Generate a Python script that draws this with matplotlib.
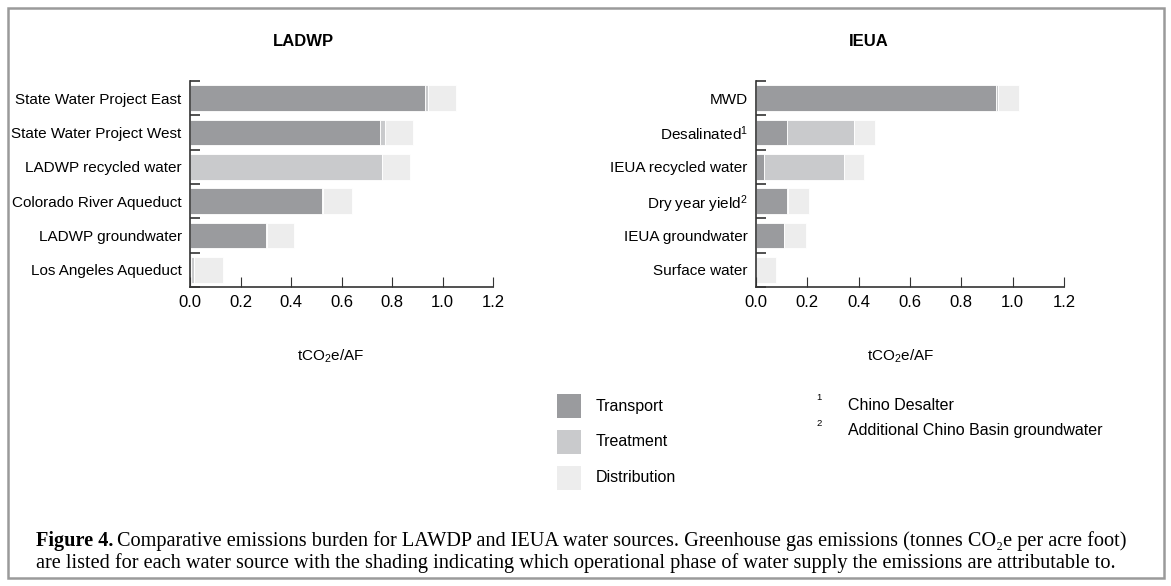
import matplotlib.pyplot as plt
from matplotlib import font_manager
from matplotlib.patches import Rectangle

# narrow sans isn't always there; fall back to the regular one
names = set(f.name for f in font_manager.fontManager.ttflist)
if 'Liberation Sans Narrow' in names:
    SANS = 'Liberation Sans Narrow'
    fs = 13
else:
    SANS = 'Liberation Sans'
    fs = 10.5
SERIF = 'Liberation Serif'

plt.rcParams['font.family'] = [SANS, 'DejaVu Sans']
plt.rcParams['mathtext.fontset'] = 'custom'
plt.rcParams['mathtext.rm'] = SANS
plt.rcParams['mathtext.it'] = SANS + ':italic'
plt.rcParams['mathtext.bf'] = SANS + ':bold'

# data (tCO2e/AF)
ladwp_sources = ['State Water Project East', 'State Water Project West', 'LADWP recycled water',
                 'Colorado River Aqueduct', 'LADWP groundwater', 'Los Angeles Aqueduct']
ladwp_transport = [0.932, 0.752, 0.0, 0.521, 0.300, 0.004]
ladwp_treatment = [0.010, 0.019, 0.759, 0.006, 0.003, 0.013]
ladwp_distribution = [0.110, 0.112, 0.111, 0.115, 0.110, 0.112]

ieua_sources = ['MWD', 'Desalinated$^{1}$', 'IEUA recycled water',
                'Dry year yield$^{2}$', 'IEUA groundwater', 'Surface water']
ieua_transport = [0.937, 0.119, 0.031, 0.121, 0.109, 0.0]
ieua_treatment = [0.006, 0.262, 0.310, 0.003, 0.002, 0.0]
ieua_distribution = [0.082, 0.082, 0.081, 0.082, 0.082, 0.079]

phases = ['Transport', 'Treatment', 'Distribution']
colors = ['#9a9b9e', '#c9cacc', '#ededed']
xticks = [0, 0.2, 0.4, 0.6, 0.8, 1.0, 1.2]

fig = plt.figure(figsize=(11.71, 5.86), dpi=100)

# outer frame
fig.patches.append(Rectangle((8 / 1171, 8 / 586), 1156 / 1171, 570 / 586, transform=fig.transFigure,
                             fill=False, edgecolor='#9a9a9a', linewidth=1.8))


def draw_panel(ax, sources, transport, treatment, distribution):
    y = list(range(len(sources)))
    left = [0] * len(sources)
    for vals, c in zip([transport, treatment, distribution], colors):
        ax.barh(y, vals, left=left, height=0.74, color=c, edgecolor='white', linewidth=0.6)
        left = [a + b for a, b in zip(left, vals)]
    ax.set_xlim(0, 1.2)
    ax.set_ylim(len(sources) - 0.5, -0.5)
    ax.set_xticks(xticks)
    ax.set_xticklabels(['%.1f' % t for t in xticks], fontsize=fs + 1.5)
    ax.set_yticks(y)
    ax.set_yticklabels(sources, fontsize=fs + 0.5)
    ax.tick_params(axis='y', which='major', length=0, pad=6)
    ax.set_yticks([k - 0.5 for k in range(len(sources) + 1)], minor=True)
    ax.tick_params(axis='y', which='minor', direction='in', length=7, width=1.2, color='#333333')
    ax.tick_params(axis='x', direction='in', length=7, width=0.8, color='#333333', pad=6)
    for s in ['top', 'right']:
        ax.spines[s].set_visible(False)
    for s in ['left', 'bottom']:
        ax.spines[s].set_color('#333333')
        ax.spines[s].set_linewidth(1.2)


ax1 = fig.add_axes([190 / 1171, 1 - 287 / 586, 303 / 1171, 206 / 586])
draw_panel(ax1, ladwp_sources, ladwp_transport, ladwp_treatment, ladwp_distribution)
ax2 = fig.add_axes([756 / 1171, 1 - 287 / 586, 308 / 1171, 206 / 586])
draw_panel(ax2, ieua_sources, ieua_transport, ieua_treatment, ieua_distribution)

fig.text(303 / 1171, 1 - 42 / 586, 'LADWP', ha='center', va='center', fontsize=fs + 1.5, fontweight='bold')
fig.text(869 / 1171, 1 - 42 / 586, 'IEUA', ha='center', va='center', fontsize=fs + 1.5, fontweight='bold')
fig.text(331 / 1171, 1 - 356 / 586, 'tCO$_2$e/AF', ha='center', va='center', fontsize=fs + 0.5)
fig.text(901 / 1171, 1 - 356 / 586, 'tCO$_2$e/AF', ha='center', va='center', fontsize=fs + 0.5)

# legend
for i, (p, c) in enumerate(zip(phases, colors)):
    yc = 406 + i * 36
    fig.patches.append(Rectangle((557 / 1171, 1 - (yc + 12) / 586), 24 / 1171, 24 / 586,
                                 transform=fig.transFigure, facecolor=c, edgecolor='none'))
    fig.text(596 / 1171, 1 - yc / 586, p, ha='left', va='center', fontsize=fs + 1)

# footnotes
fig.text(816 / 1171, 1 - 398 / 586, '1', ha='left', va='center', fontsize=fs * 0.65)
fig.text(848 / 1171, 1 - 405 / 586, 'Chino Desalter', ha='left', va='center', fontsize=fs + 1)
fig.text(816 / 1171, 1 - 423 / 586, '2', ha='left', va='center', fontsize=fs * 0.65)
fig.text(848 / 1171, 1 - 430 / 586, 'Additional Chino Basin groundwater', ha='left', va='center',
         fontsize=fs + 1)

# caption: bold lead-in, then the rest right after it
cap_fs = 14.6
lead = fig.text(36 / 1171, 1 - 541 / 586, 'Figure 4.', ha='left', va='center', fontsize=cap_fs,
                fontweight='bold', family=[SERIF, 'DejaVu Serif'])
renderer = fig.canvas.get_renderer()
bb = lead.get_window_extent(renderer)
fig.text((bb.x1 + 4) / 1171, 1 - 541 / 586,
         'Comparative emissions burden for LAWDP and IEUA water sources. '
         'Greenhouse gas emissions (tonnes CO\u2082e per acre foot)',
         ha='left', va='center', fontsize=cap_fs, family=[SERIF, 'DejaVu Serif'])
fig.text(36 / 1171, 1 - 563 / 586,
         'are listed for each water source with the shading indicating which operational phase of '
         'water supply the emissions are attributable to.',
         ha='left', va='center', fontsize=cap_fs, family=[SERIF, 'DejaVu Serif'])

fig.savefig('out.png', dpi=100)
